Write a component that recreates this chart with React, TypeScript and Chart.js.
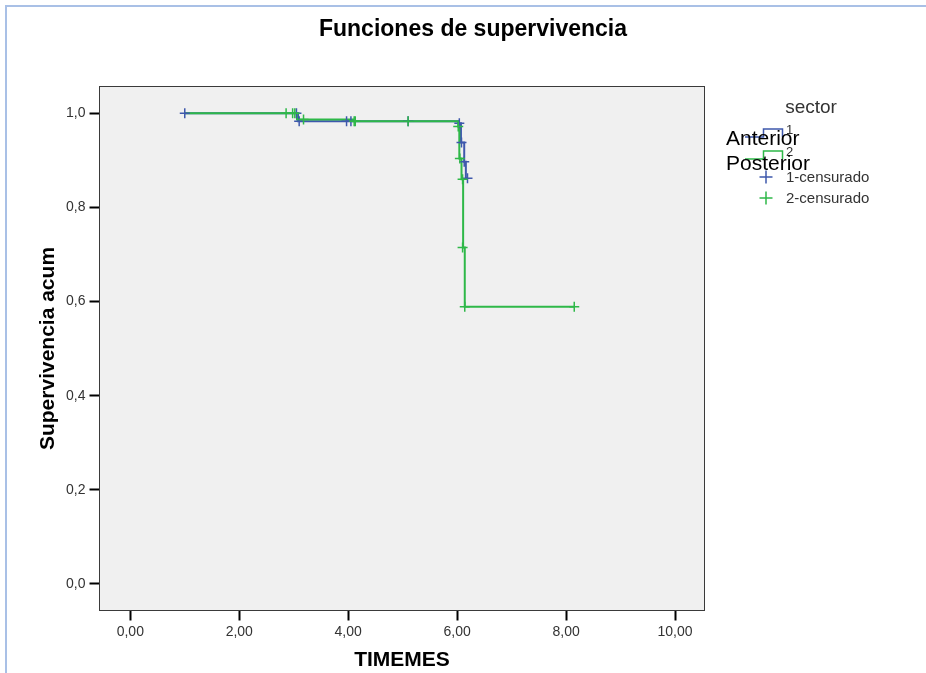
import React, { useEffect, useRef } from 'react';
import { Chart, registerables } from 'chart.js';

Chart.register(...registerables);

const FONT = '"Liberation Sans", Arial, sans-serif';
const BLUE = 'rgb(62,88,172)';
const GREEN = 'rgb(46,184,72)';

const chartTitle = 'Funciones de supervivencia';
const xAxisTitle = 'TIMEMES';
const yAxisTitle = 'Supervivencia acum';
const legendTitle = 'sector';
const groupLabels = ['Anterior', 'Posterior'];
const groupCodes = ['1', '2'];
const censoredLabels = ['1-censurado', '2-censurado'];

const xTickValues = [0, 2, 4, 6, 8, 10];
const xTickLabels = ['0,00', '2,00', '4,00', '6,00', '8,00', '10,00'];
const yTickValues = [0, 0.2, 0.4, 0.6, 0.8, 1.0];
const yTickLabels = ['0,0', '0,2', '0,4', '0,6', '0,8', '1,0'];
const xMin = -0.5655;
const xMax = 10.541;
const yMin = -0.0563;
const yMax = 1.0569;

// Group 1 (Anterior) survival steps
const anteriorTimes = [1.0, 3.08, 6.02, 6.07, 6.13, 6.16, 6.19];
const anteriorSurv = [1.0, 0.983, 0.979, 0.938, 0.897, 0.862, 0.862];
const anteriorCensTimes = [1.0, 3.05, 3.1, 3.97, 4.05, 5.1, 6.04, 6.08, 6.13, 6.19];
const anteriorCensSurv = [1.0, 1.0, 0.983, 0.983, 0.983, 0.983, 0.979, 0.938, 0.897, 0.862];

// Group 2 (Posterior) survival steps
const posteriorTimes = [1.0, 3.06, 4.09, 6.02, 6.04, 6.08, 6.11, 6.14, 8.15];
const posteriorSurv = [1.0, 0.987, 0.983, 0.972, 0.904, 0.86, 0.715, 0.589, 0.589];
const posteriorCensTimes = [2.86, 2.98, 3.02, 3.18, 4.11, 4.13, 5.1, 6.02, 6.05, 6.1, 6.1, 6.14, 8.15];
const posteriorCensSurv = [1.0, 1.0, 1.0, 0.987, 0.983, 0.983, 0.983, 0.972, 0.904, 0.86, 0.715, 0.589, 0.589];

const toXY = (xs: number[], ys: number[]) => xs.map((x, i) => ({ x, y: ys[i] }));

const decorPlugin = {
  id: 'decor',
  beforeDraw(chart: any) {
    const { ctx, chartArea } = chart;
    ctx.save();
    ctx.fillStyle = '#ffffff';
    ctx.fillRect(0, 0, chart.width, chart.height);
    ctx.fillStyle = '#a9c0e6';
    ctx.fillRect(5, 5, chart.width - 5, 2);
    ctx.fillRect(5, 5, 2, chart.height - 5);
    ctx.fillStyle = '#f0f0f0';
    ctx.fillRect(chartArea.left, chartArea.top, chartArea.right - chartArea.left, chartArea.bottom - chartArea.top);
    ctx.restore();
  },
  afterDraw(chart: any) {
    const { ctx, chartArea } = chart;
    ctx.save();
    // plot frame
    ctx.strokeStyle = '#3a3a3a';
    ctx.lineWidth = 1;
    ctx.strokeRect(chartArea.left, chartArea.top, chartArea.right - chartArea.left, chartArea.bottom - chartArea.top);

    // title
    ctx.fillStyle = '#000';
    ctx.font = `bold 23px ${FONT}`;
    ctx.textAlign = 'center';
    ctx.textBaseline = 'alphabetic';
    ctx.fillText(chartTitle, 473, 36);

    // legend
    ctx.fillStyle = '#333';
    ctx.font = `19px ${FONT}`;
    ctx.fillText(legendTitle, 811, 113);

    const colors = [BLUE, GREEN];
    const symY = [137, 159];
    const textY = [145, 170];
    ctx.textAlign = 'left';
    for (let i = 0; i < 2; i++) {
      const y = symY[i];
      ctx.strokeStyle = colors[i];
      ctx.lineWidth = 1.5;
      ctx.beginPath();
      ctx.moveTo(745, y);
      ctx.lineTo(763.5, y);
      ctx.lineTo(763.5, y - 8);
      ctx.lineTo(782.5, y - 8);
      ctx.lineTo(782.5, y);
      ctx.stroke();
      ctx.fillStyle = '#333';
      ctx.font = `13px ${FONT}`;
      ctx.fillText(groupCodes[i], 786, y - 3);
      ctx.fillStyle = '#000';
      ctx.font = `21px ${FONT}`;
      ctx.fillText(groupLabels[i], 726, textY[i]);
    }
    const crossY = [177, 198];
    for (let i = 0; i < 2; i++) {
      const cy = crossY[i];
      ctx.strokeStyle = colors[i];
      ctx.lineWidth = 1.5;
      ctx.beginPath();
      ctx.moveTo(759.5, cy);
      ctx.lineTo(772.5, cy);
      ctx.moveTo(766, cy - 6.5);
      ctx.lineTo(766, cy + 6.5);
      ctx.stroke();
      ctx.fillStyle = '#333';
      ctx.font = `15px ${FONT}`;
      ctx.fillText(censoredLabels[i], 786, cy + 5);
    }
    ctx.restore();
  },
};

export default function App() {
  const ref = useRef<HTMLCanvasElement>(null);
  useEffect(() => {
    if (!ref.current) return;
    const censStyle = (c: string) => ({
      showLine: false,
      pointStyle: 'cross',
      pointRadius: 5,
      pointHoverRadius: 5,
      pointBorderWidth: 1.5,
      pointBorderColor: c,
      pointBackgroundColor: c,
      borderColor: c,
      backgroundColor: c,
    });
    const lineStyle = (c: string) => ({
      showLine: true,
      stepped: 'before' as const,
      borderColor: c,
      backgroundColor: c,
      borderWidth: 2,
      pointRadius: 0,
      pointHoverRadius: 0,
      fill: false,
    });
    const chart = new Chart(ref.current, {
      type: 'scatter',
      data: {
        datasets: [
          { label: censoredLabels[1], data: toXY(posteriorCensTimes, posteriorCensSurv), ...censStyle(GREEN) },
          { label: censoredLabels[0], data: toXY(anteriorCensTimes, anteriorCensSurv), ...censStyle(BLUE) },
          { label: groupLabels[1], data: toXY(posteriorTimes, posteriorSurv), ...lineStyle(GREEN) },
          { label: groupLabels[0], data: toXY(anteriorTimes, anteriorSurv), ...lineStyle(BLUE) },
        ] as any,
      },
      options: {
        responsive: false,
        animation: false,
        events: [],
        layout: { padding: { left: 0, top: 86.5, right: 221.5, bottom: 0 } },
        plugins: {
          legend: { display: false },
          title: { display: false },
          tooltip: { enabled: false },
        },
        scales: {
          x: {
            type: 'linear',
            min: xMin,
            max: xMax,
            afterBuildTicks: (s: any) => {
              s.ticks = xTickValues.map((v) => ({ value: v }));
            },
            afterFit: (s: any) => {
              s.height = 62.5;
            },
            ticks: {
              callback: (v: any) => xTickLabels[xTickValues.indexOf(Number(v))],
              font: { size: 14, family: FONT },
              color: '#333',
              padding: 3,
              maxRotation: 0,
              autoSkip: false,
            },
            grid: {
              display: true,
              drawOnChartArea: false,
              drawTicks: true,
              tickLength: 10,
              tickWidth: 2,
              tickColor: '#000',
            },
            border: { display: false },
            title: {
              display: true,
              text: xAxisTitle,
              color: '#000',
              font: { size: 21, weight: 'bold', family: FONT, lineHeight: 1 },
              padding: { top: 0, bottom: 2 },
            },
          },
          y: {
            type: 'linear',
            min: yMin,
            max: yMax,
            afterBuildTicks: (s: any) => {
              s.ticks = yTickValues.map((v) => ({ value: v }));
            },
            afterFit: (s: any) => {
              s.width = 99.5;
            },
            ticks: {
              callback: (v: any) => yTickLabels[yTickValues.indexOf(Number(v))],
              font: { size: 14, family: FONT },
              color: '#333',
              padding: 4,
              autoSkip: false,
            },
            grid: {
              display: true,
              drawOnChartArea: false,
              drawTicks: true,
              tickLength: 10,
              tickWidth: 2,
              tickColor: '#000',
            },
            border: { display: false },
            title: {
              display: true,
              text: yAxisTitle,
              color: '#000',
              font: { size: 21, weight: 'bold', family: FONT, lineHeight: 1 },
              padding: { top: 38, bottom: 0 },
            },
          },
        },
      } as any,
      plugins: [decorPlugin],
    });
    return () => chart.destroy();
  }, []);
  return (
    <div style={{ position: 'absolute', left: 0, top: 0, width: 926, height: 673 }}>
      <canvas ref={ref} width={926} height={673} style={{ display: 'block' }} />
    </div>
  );
}
